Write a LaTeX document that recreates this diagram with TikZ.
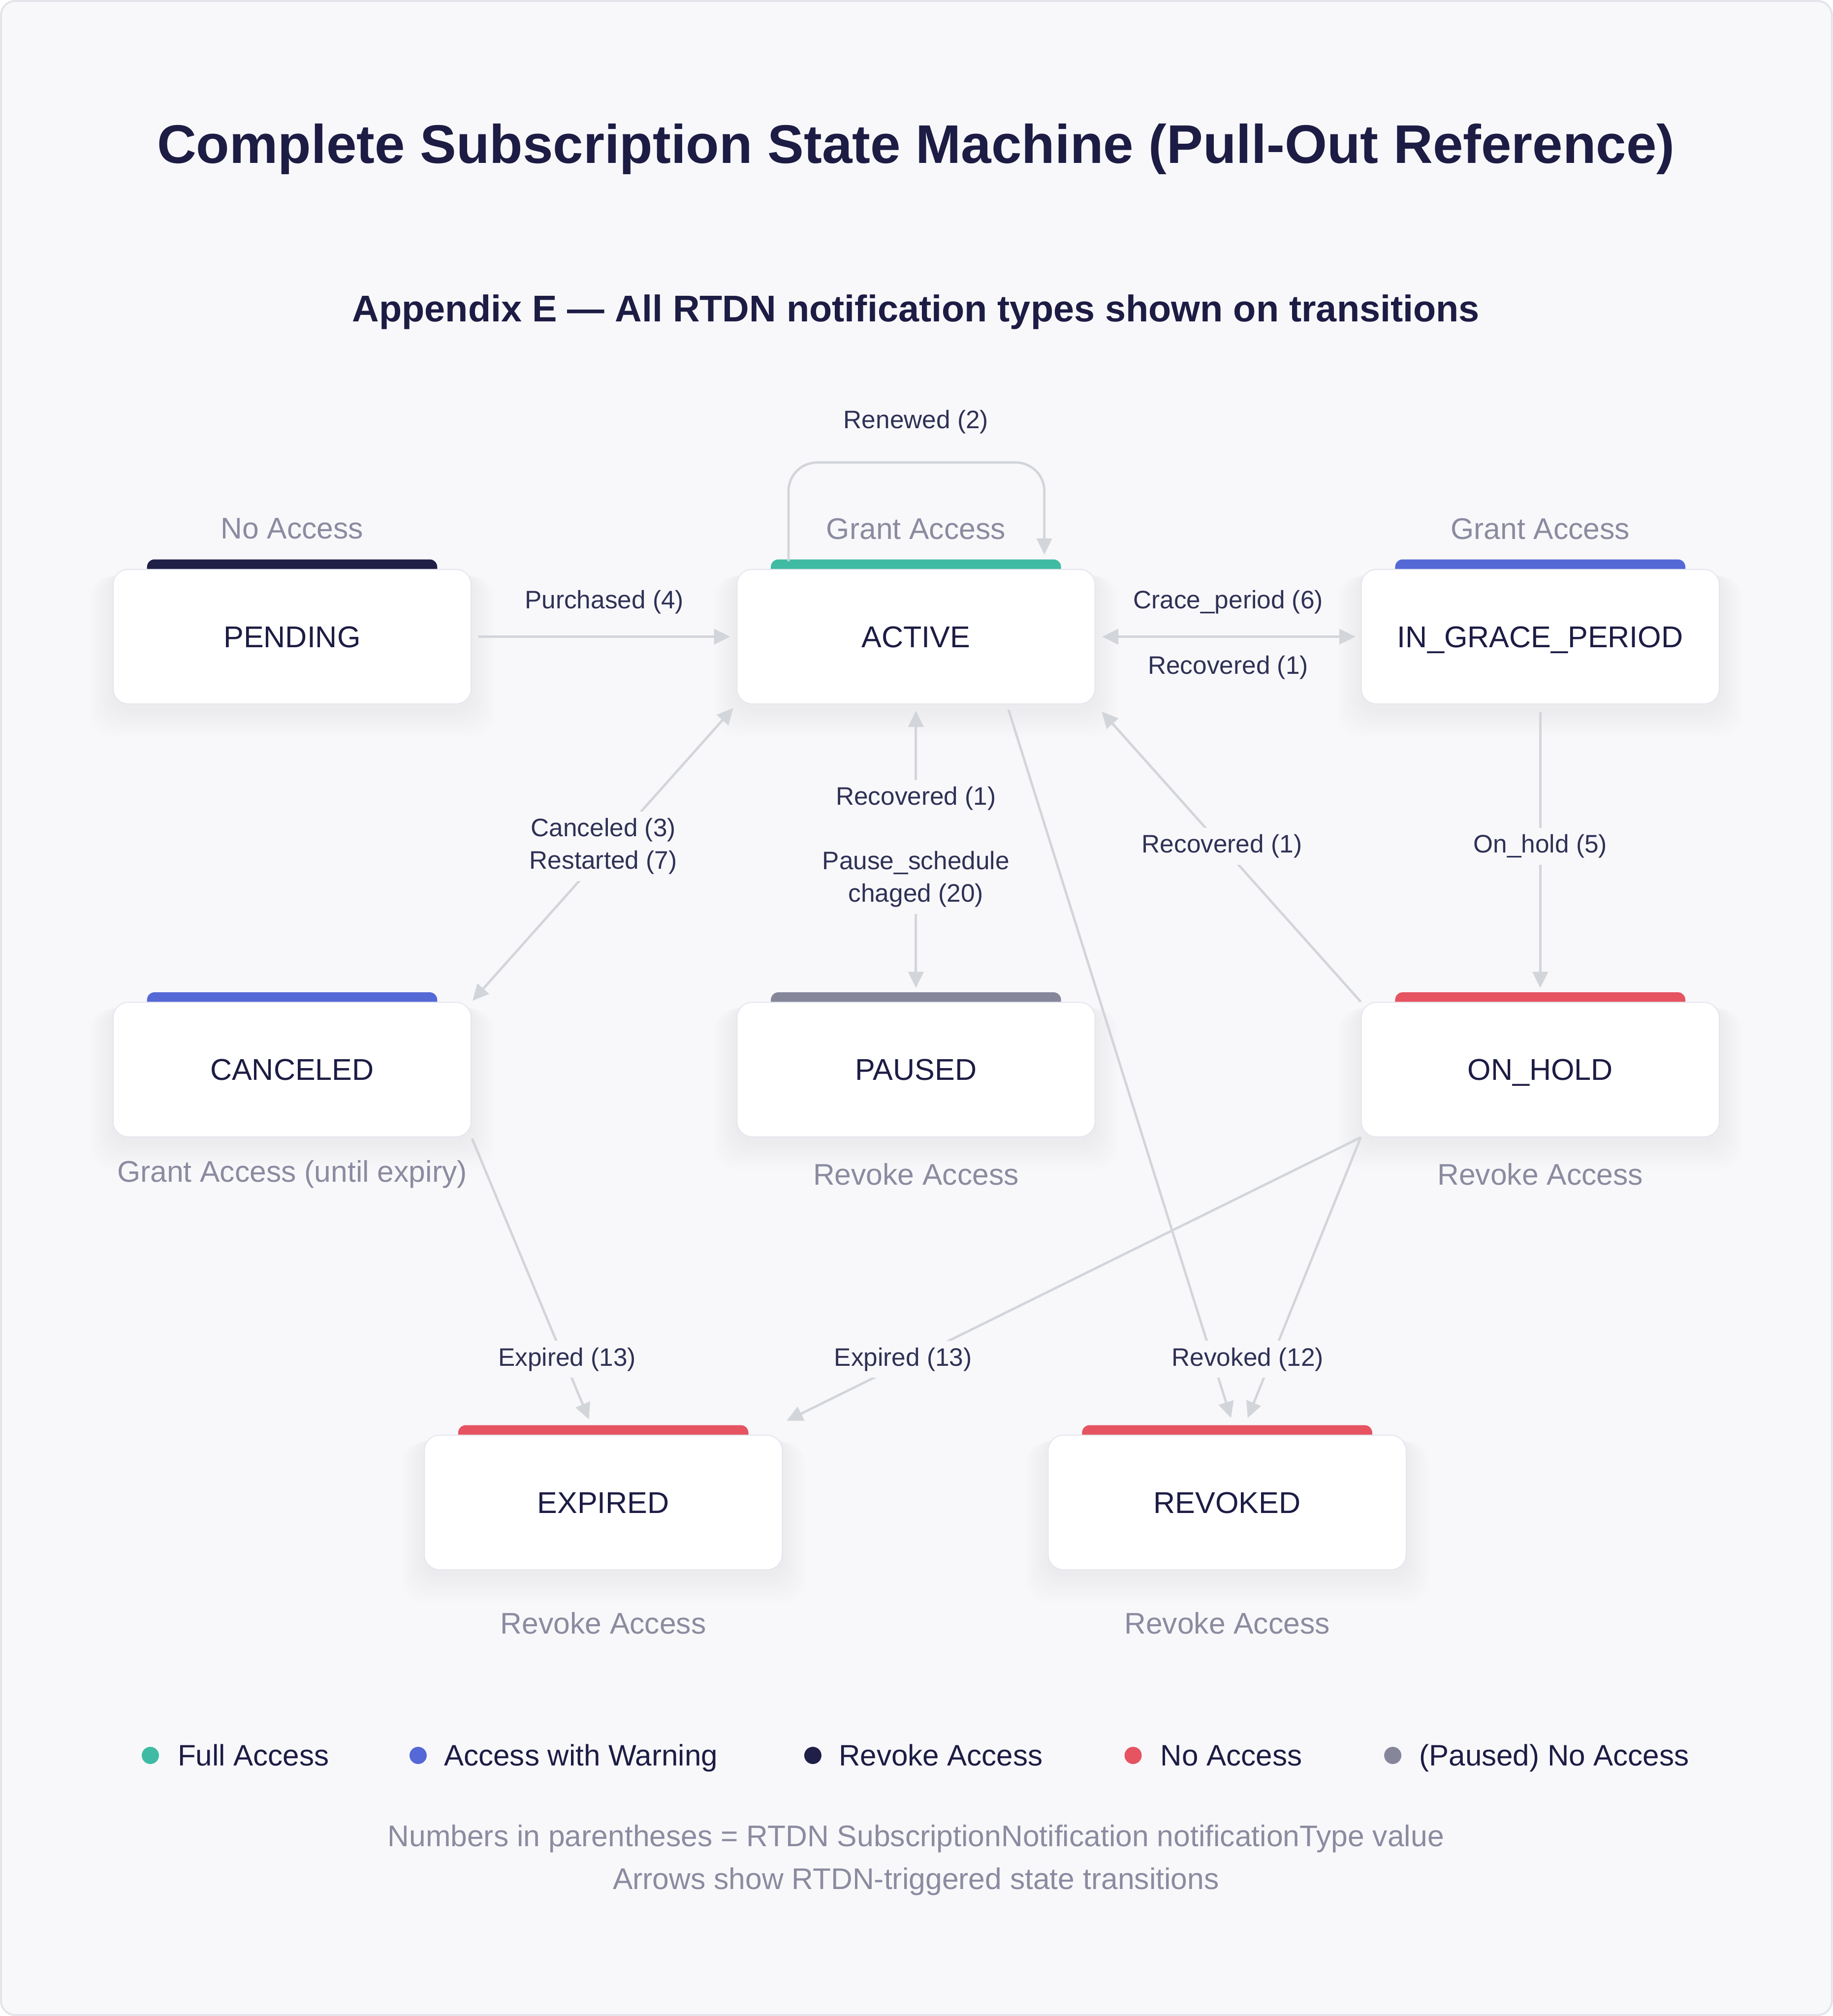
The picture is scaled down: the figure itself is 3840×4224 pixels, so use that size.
\documentclass[tikz,border=0pt]{standalone}
\usepackage{fontspec}
\setmainfont{Liberation Sans}
\usetikzlibrary{arrows.meta,calc}
\definecolor{bgc}{HTML}{F8F8FB}
\definecolor{framec}{HTML}{E3E3EA}
\definecolor{navy}{HTML}{1C1C44}
\definecolor{lblc}{HTML}{2F3155}
\definecolor{grayt}{HTML}{8B8BA0}
\definecolor{connc}{HTML}{D2D5DA}
\definecolor{tealc}{HTML}{3FBBA3}
\definecolor{bluec}{HTML}{5468D6}
\definecolor{navybar}{HTML}{1F1F47}
\definecolor{redc}{HTML}{E65361}
\definecolor{grayc}{HTML}{86869B}
\definecolor{nodeborder}{HTML}{E4E5EE}
\definecolor{shadowc}{HTML}{9091B8}
\pgfdeclarelayer{back}
\pgfdeclarelayer{bgl}
\pgfsetlayers{back,bgl,main}
\newcommand\nodeshadow[1]{%
  \foreach \k in {1,...,12}{%
    \fill[shadowc, opacity=0.009, rounded corners=44pt]
      ($(#1.north west)+(-4*\k, 4+\k*1)$) rectangle ($(#1.south east)+(4*\k, 8+\k*5)$);
  }}
\newcommand\statebar[2]{%
  \fill[#2, rounded corners=16pt] ($(#1.north west)+(72,-20)$) rectangle ($(#1.north east)+(-72,24)$);}
\begin{document}
\begin{tikzpicture}[x=1pt,y=-1pt,
  >={Triangle[length=34pt,width=32pt]},
  state/.style={rectangle, rounded corners=32pt, fill=white, draw=nodeborder, line width=2pt,
    minimum width=750pt, minimum height=282pt, text=navy, text height=45pt, text depth=0pt,
    font=\fontsize{63}{76}\selectfont},
  conn/.style={draw=connc, line width=5pt},
  arr/.style={conn, ->},
  darr/.style={conn, <->},
  lbl/.style={fill=bgc, inner sep=14pt, text=lblc, font=\fontsize{53}{68}\selectfont, align=center},
  plainlbl/.style={inner sep=4pt, text=lblc, font=\fontsize{53}{68}\selectfont},
  acc/.style={text=grayt, font=\fontsize{62.5}{74}\selectfont},
  leg/.style={text=navy, font=\fontsize{62}{74}\selectfont, anchor=base west},
  dot/.style={circle, inner sep=0pt, minimum size=36pt}
]
\useasboundingbox (0,0) rectangle (3840,4224);
\begin{pgfonlayer}{back}
  \fill[bgc, draw=framec, line width=4pt, rounded corners=30pt] (2,2) rectangle (3838,4222);
\end{pgfonlayer}

% titles
\node[text=navy, font=\fontsize{114}{130}\selectfont\bfseries] (title) at (1919,312)
  {Complete Subscription State Machine (Pull-Out Reference)};
\node[text=navy, font=\fontsize{78}{94}\selectfont\bfseries] (subtitle) at (1919,654)
  {Appendix E — All RTDN notification types shown on transitions};

% states
\node[state] (pending)  at (612,1334)  {PENDING};
\node[state] (active)   at (1919,1334) {ACTIVE};
\node[state] (grace)    at (3227,1334) {IN\_GRACE\_PERIOD};
\node[state] (canceled) at (612,2241)  {CANCELED};
\node[state] (paused)   at (1919,2241) {PAUSED};
\node[state] (onhold)   at (3227,2241) {ON\_HOLD};
\node[state] (expired)  at (1264,3148) {EXPIRED};
\node[state] (revoked)  at (2571,3148) {REVOKED};

\begin{pgfonlayer}{bgl}
  \nodeshadow{pending}\nodeshadow{active}\nodeshadow{grace}
  \nodeshadow{canceled}\nodeshadow{paused}\nodeshadow{onhold}
  \nodeshadow{expired}\nodeshadow{revoked}
  \statebar{pending}{navybar}
  \statebar{active}{tealc}
  \statebar{grace}{bluec}
  \statebar{canceled}{bluec}
  \statebar{paused}{grayc}
  \statebar{onhold}{redc}
  \statebar{expired}{redc}
  \statebar{revoked}{redc}
\end{pgfonlayer}

% access labels
\node[acc] (accpending) at (612,1108)  {No Access};
\node[acc] (accactive)  at (1919,1108) {Grant Access};
\node[acc] (accgrace)   at (3227,1108) {Grant Access};
\node[acc] (acccanc)    at (612,2460)  {Grant Access (until expiry)};
\node[acc] (accpaused)  at (1919,2460) {Revoke Access};
\node[acc] (acconhold)  at (3227,2460) {Revoke Access};
\node[acc] (accexpired) at (1264,3401) {Revoke Access};
\node[acc] (accrevoked) at (2571,3401) {Revoke Access};

% connectors
\draw[arr, shorten <=14pt, shorten >=13pt] (pending) -- (active);
\draw[arr, rounded corners=60pt] ($(active.north)+(-267,-16)$) -- ++(0,-207) -| ($(active.north)+(269,-30)$);
\draw[darr, shorten <=14pt, shorten >=11pt] (active) -- (grace);
\draw[darr, shorten <=3pt, shorten >=10pt] (canceled.north east) -- (active.south west);
\draw[arr, shorten >=20pt] (onhold.north west) -- (active.south east);
\draw[arr, shorten <=16pt, shorten >=29pt] (grace) -- (onhold);
\draw[arr, shorten <=3pt] (canceled.south east) -- ($(expired.north)+(-30,-32)$);
\draw[arr] (onhold.south west) -- ($(expired.north east)+(8,-29)$);
\draw[arr] ($(active.south)+(194,11)$) -- ($(revoked.north)+(8,-35)$);
\draw[arr] (onhold.south west) -- ($(revoked.north)+(43,-35)$);

% vertical ACTIVE / PAUSED pair
\node[lbl] (lrec)   at (1919,1673) {Recovered (1)};
\node[lbl] (lpause) at (1919,1842) {Pause\_schedule\\chaged (20)};
\draw[arr, shorten >=13pt] (lrec) -- (active);
\draw[arr, shorten >=29pt] (lpause) -- (paused);

% edge labels
\node[plainlbl] (lrenew)  at (1919,884)  {Renewed (2)};
\node[plainlbl] (lpurch)  at (1266,1261) {Purchased (4)};
\node[plainlbl] (lgrace)  at (2573,1261) {Crace\_period (6)};
\node[plainlbl] (lrecg)   at (2573,1399) {Recovered (1)};
\node[lbl] (lcanc)   at (1264,1773) {Canceled (3)\\Restarted (7)};
\node[lbl] (lrecoh)  at (2560,1773) {Recovered (1)};
\node[lbl] (lonhold) at (3227,1773) {On\_hold (5)};
\node[lbl] (lexp1)   at (1188,2848) {Expired (13)};
\node[lbl] (lexp2)   at (1892,2848) {Expired (13)};
\node[lbl] (lrev)    at (2614,2848) {Revoked (12)};

% legend
\node[dot, fill=tealc]   (d1) at (315,3678)  {};
\node[leg] (t1) at (369,3700)  {Full Access};
\node[dot, fill=bluec]   (d2) at (876,3678)  {};
\node[leg] (t2) at (927,3700)  {Access with Warning};
\node[dot, fill=navybar] (d3) at (1703,3678) {};
\node[leg] (t3) at (1754,3700) {Revoke Access};
\node[dot, fill=redc]    (d4) at (2374,3678) {};
\node[leg] (t4) at (2428,3700) {No Access};
\node[dot, fill=grayc]   (d5) at (2918,3678) {};
\node[leg] (t5) at (2970,3700) {(Paused) No Access};

% footer
\node[acc] (foot1) at (1919,3853) {Numbers in parentheses = RTDN SubscriptionNotification notificationType value};
\node[acc] (foot2) at (1919,3942) {Arrows show RTDN-triggered state transitions};
\end{tikzpicture}
\end{document}
